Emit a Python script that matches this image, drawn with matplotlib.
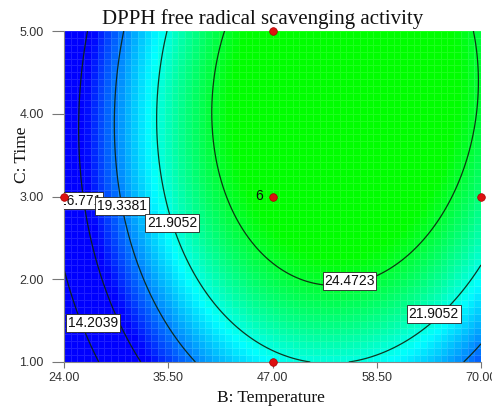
import numpy as np
import matplotlib
matplotlib.use("Agg")
import matplotlib.pyplot as plt
from matplotlib.colors import LinearSegmentedColormap

# Quadratic response-surface model in coded units (B' = (B-47)/23, C' = (C-3)/2)
# terms: intercept, B, C, B^2, C^2, BC
model_coef = [25.6772, 4.0549, 2.1952, -6.3331, -1.9966, 0.5907]
b_range = [24.0, 70.0]
c_range = [1.0, 5.0]
b_center, b_half = 47.0, 23.0
c_center, c_half = 3.0, 2.0

contour_levels = [14.2039, 16.7710, 19.3381, 21.9052, 24.4723]
label_texts = ["14.2039", "16.771", "19.3381", "21.9052", "24.4723", "21.9052"]
label_b = [27.2, 25.75, 30.4, 35.9, 55.5, 64.8]
label_c = [1.47, 2.95, 2.885, 2.68, 1.98, 1.58]

design_b = [47.0, 47.0, 24.0, 70.0, 47.0]
design_c = [5.0, 1.0, 3.0, 3.0, 3.0]
center_count = "6"

x_ticks = [24.00, 35.50, 47.00, 58.50, 70.00]
y_ticks = [1.00, 2.00, 3.00, 4.00, 5.00]

title = "DPPH free radical scavenging activity"
x_label = "B: Temperature"
y_label = "C: Time"

W, H = 492, 408
fig = plt.figure(figsize=(W / 100, H / 100), dpi=100)
ax = fig.add_axes([64 / W, 1 - 362 / H, (481 - 64) / W, (362 - 31) / H])

def response(B, C):
    x = (B - b_center) / b_half
    y = (C - c_center) / c_half
    a0, a1, a2, a11, a22, a12 = model_coef
    return a0 + a1 * x + a2 * y + a11 * x * x + a22 * y * y + a12 * x * y

# coarse cells (Design-Expert style)
nb, nc = 62, 48
be = np.linspace(*b_range, nb + 1)
ce = np.linspace(*c_range, nc + 1)
bm = 0.5 * (be[:-1] + be[1:])
cm = 0.5 * (ce[:-1] + ce[1:])
BMc, CMc = np.meshgrid(bm, cm)
Zc = response(BMc, CMc)

vmin, vmax = 17.2, 25.2
cyan_at = 21.5
cmap = LinearSegmentedColormap.from_list(
    "de", [(0.0, (0, 0, 1)), ((cyan_at - vmin) / (vmax - vmin), (0, 1, 1)), (1.0, (0, 1, 0))])
ax.pcolormesh(be, ce, Zc, cmap=cmap, vmin=vmin, vmax=vmax, shading="flat",
              edgecolors=(1, 1, 1, 0.12), linewidth=0.4)

bf = np.linspace(*b_range, 300)
cf = np.linspace(*c_range, 300)
BF, CF = np.meshgrid(bf, cf)
ZF = response(BF, CF)
ax.contour(BF, CF, ZF, levels=contour_levels, colors="#0d220d", linewidths=0.9, alpha=0.9)

for i, (t, lb, lc) in enumerate(zip(label_texts, label_b, label_c)):
    ax.text(lb, lc, t, ha="center", va="center", fontsize=10, family="Liberation Sans",
            color="#111111", clip_on=True, zorder=5 + i,
            bbox=dict(boxstyle="square,pad=0.12", fc="white", ec="#222222", lw=0.6))

ax.plot(design_b, design_c, "o", color="#dd1111", ms=5.5, mec="#aa0000", mew=0.5,
        clip_on=False, zorder=20)
ax.text(design_b[4] - 1.1, design_c[4], center_count, ha="right", va="center",
        fontsize=10, family="Liberation Sans", color="#111111", zorder=21)

ax.set_xlim(*b_range)
ax.set_ylim(*c_range)
ax.set_xticks(x_ticks)
ax.set_yticks(y_ticks)
ax.set_xticklabels([f"{v:.2f}" for v in x_ticks])
ax.set_yticklabels([f"{v:.2f}" for v in y_ticks])
for s in ["top", "right"]:
    ax.spines[s].set_visible(False)
for s in ["left", "bottom"]:
    ax.spines[s].set_color("#888888")
    ax.spines[s].set_linewidth(0.8)
ax.tick_params(axis="y", length=8.5, width=0.8, color="#777777", pad=6,
               labelsize=9, labelcolor="#333333")
ax.tick_params(axis="x", length=4.5, width=0.8, color="#777777", pad=3,
               labelsize=9, labelcolor="#333333")
for lab in ax.get_xticklabels() + ax.get_yticklabels():
    lab.set_family("Liberation Sans")

fig.text(263 / W, 1 - 24 / H, title, ha="center", va="baseline",
         fontsize=15, family="Liberation Serif", color="#111111")
fig.text(271 / W, 1 - 398 / H, x_label, ha="center", va="center",
         fontsize=12.5, family="Liberation Serif", color="#111111")
fig.text(22 / W, 1 - 155 / H, y_label, ha="center", va="center", rotation=90,
         fontsize=12.5, family="Liberation Serif", color="#111111")

fig.savefig("out.png", dpi=100)
